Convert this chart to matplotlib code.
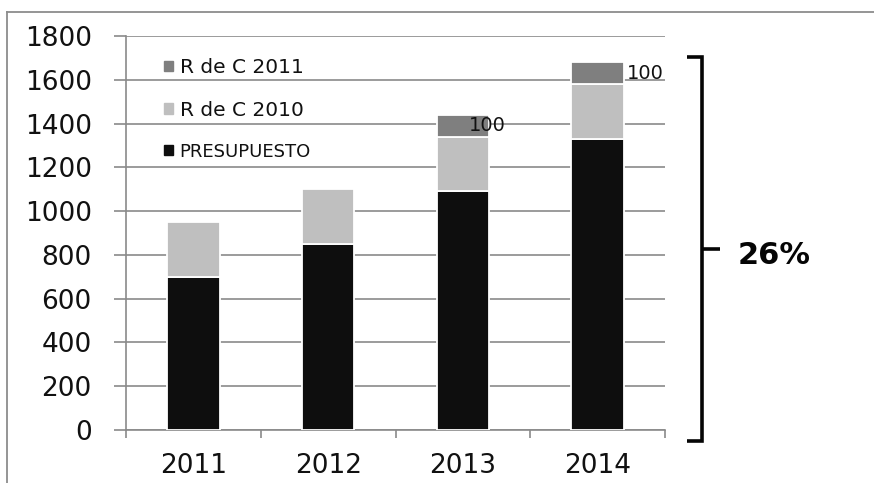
import matplotlib.pyplot as plt
from matplotlib.patches import Patch
from matplotlib.lines import Line2D
import numpy as np

# data
years = ['2011', '2012', '2013', '2014']
presupuesto = [700, 850, 1090, 1330]
rdec_2010 = [250, 250, 250, 250]
rdec_2011 = [0, 0, 100, 100]
label_100 = ['', '', '100', '100']
label_dx = [0, 0, 4, 21]   # offsets (pt) of the '100' labels, placed by hand in the source

c_pres = '#0e0e0e'
c_2010 = '#bfbfbf'
c_2011 = '#7f7f7f'
c_grid = '#8a8a8a'

plt.rcParams['font.family'] = ['DejaVu Sans']

fig = plt.figure(figsize=(8.74, 4.83), dpi=100)
ax = fig.add_axes([0.1442, 0.1097, 0.6167, 0.8157])

x = np.arange(len(years))
w = 0.39
ax.bar(x, presupuesto, w, color=c_pres, edgecolor='white', linewidth=1.3, zorder=3)
bottom2 = np.array(presupuesto)
ax.bar(x, rdec_2010, w, bottom=bottom2, color=c_2010, edgecolor='white', linewidth=1.3, zorder=3)
bottom3 = bottom2 + np.array(rdec_2010)
v3 = np.array(rdec_2011)
ax.bar(x[v3 > 0], v3[v3 > 0], w, bottom=bottom3[v3 > 0], color=c_2011,
       edgecolor='white', linewidth=1.3, zorder=3)

for i in range(len(years)):
    if label_100[i]:
        ax.annotate(label_100[i], xy=(x[i], bottom3[i] + v3[i] / 2),
                    xytext=(label_dx[i], 0), textcoords='offset points',
                    ha='left', va='center', fontsize=14, color='#111111', zorder=5)

ax.set_xlim(-0.5, 3.5)
ax.set_ylim(0, 1800)
ax.set_yticks(np.arange(0, 1801, 200))
ax.set_xticks(x)
ax.set_xticklabels(years)
ax.set_xticks(np.arange(-0.5, 3.6, 1), minor=True)
ax.yaxis.grid(True, color=c_grid, linewidth=1.2)
ax.set_axisbelow(True)

for s in ['top', 'right']:
    ax.spines[s].set_visible(False)
for s in ['left', 'bottom']:
    ax.spines[s].set_color(c_grid)
    ax.spines[s].set_linewidth(1.2)

ax.tick_params(axis='y', direction='out', length=8.6, width=1.2, color=c_grid,
               pad=16, labelsize=19, labelcolor='#111111')
ax.tick_params(axis='x', which='major', length=0, pad=16.5, labelsize=19, labelcolor='#111111')
ax.tick_params(axis='x', which='minor', direction='out', length=6, width=1.2, color=c_grid)

handles = [Patch(color=c_2011), Patch(color=c_2010), Patch(color=c_pres)]
leg = ax.legend(handles, ['R de C 2011', 'R de C 2010', 'PRESUPUESTO'],
                loc='upper left', bbox_to_anchor=(0.036, 0.99), frameon=False,
                fontsize=14.5, handlelength=0.45, handleheight=0.45, handletextpad=0.35,
                labelspacing=1.17)
for t in leg.get_texts():
    t.set_color('#111111')
leg.get_texts()[2].set_fontsize(13)

# bracket and percentage on the right
bx, by0, by1, bym = 0.803, 0.087, 0.882, 0.4845
kw = dict(color='#050505', linewidth=2.6, solid_capstyle='butt', solid_joinstyle='miter')
fig.add_artist(Line2D([0.786, bx, bx, 0.786], [by1, by1, by0, by0], **kw))
fig.add_artist(Line2D([bx, 0.824], [bym, bym], **kw))
fig.text(0.844, 0.47, '26%', fontsize=22, fontweight='bold', va='center', ha='left', color='#050505')

# outer frame
fcol = '#8c8c8c'
fig.add_artist(Line2D([0.008, 1.0], [0.975, 0.975], color=fcol, linewidth=1.3))
fig.add_artist(Line2D([0.008, 0.008], [0.0, 0.975], color=fcol, linewidth=1.3))

fig.savefig('out.png', dpi=100, facecolor='white')
